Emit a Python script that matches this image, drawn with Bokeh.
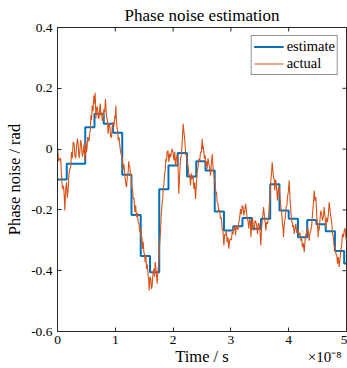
import math
from bokeh.plotting import figure
from bokeh.models import (Range1d, FixedTicker, CustomJSTickFormatter, LinearAxis,
                          Legend, LegendItem, ColumnDataSource)
from bokeh.embed import file_html
from bokeh.resources import INLINE

# time in units of 1e-8 s
est_time = [0.00, 0.16, 0.32, 0.48, 0.64, 0.80, 0.96, 1.12, 1.28, 1.44, 1.60,
            1.76, 1.92, 2.08, 2.24, 2.40, 2.56, 2.72, 2.88, 3.04, 3.20, 3.36,
            3.52, 3.68, 3.84, 4.00, 4.16, 4.32, 4.48, 4.64, 4.80, 4.96, 5.00]
est_value = [-0.100, -0.048, -0.048, 0.072, 0.116, 0.083, 0.054, -0.084, -0.217,
             -0.352, -0.405, -0.132, -0.054, -0.013, -0.090, -0.040, -0.070,
             -0.205, -0.268, -0.254, -0.227, -0.262, -0.229, -0.116, -0.202,
             -0.229, -0.290, -0.233, -0.247, -0.270, -0.335, -0.376, -0.376]

act_time = [
    0.000, 0.020, 0.040, 0.055, 0.069, 0.084, 0.098, 0.113, 0.127, 0.142,
    0.156, 0.170, 0.185, 0.199, 0.213, 0.228, 0.242, 0.257, 0.271, 0.286,
    0.300, 0.315, 0.329, 0.344, 0.358, 0.372, 0.386, 0.401, 0.415, 0.430,
    0.444, 0.459, 0.473, 0.482, 0.490, 0.502, 0.513, 0.522, 0.531, 0.545,
    0.559, 0.568, 0.577, 0.589, 0.600, 0.615, 0.629, 0.641, 0.652, 0.664,
    0.675, 0.690, 0.704, 0.718, 0.732, 0.741, 0.750, 0.762, 0.773, 0.788,
    0.802, 0.816, 0.830, 0.839, 0.848, 0.862, 0.877, 0.891, 0.905, 0.920,
    0.934, 0.948, 0.963, 0.978, 0.992, 1.000, 1.009, 1.020, 1.032, 1.041,
    1.050, 1.064, 1.078, 1.092, 1.107, 1.121, 1.136, 1.150, 1.165, 1.180,
    1.194, 1.208, 1.223, 1.232, 1.240, 1.252, 1.263, 1.275, 1.286, 1.298,
    1.309, 1.324, 1.338, 1.352, 1.367, 1.382, 1.396, 1.410, 1.424, 1.438,
    1.453, 1.462, 1.471, 1.483, 1.494, 1.505, 1.517, 1.528, 1.540, 1.555,
    1.569, 1.578, 1.586, 1.600, 1.615, 1.626, 1.638, 1.652, 1.667, 1.679,
    1.690, 1.707, 1.724, 1.738, 1.753, 1.762, 1.770, 1.782, 1.794, 1.802,
    1.811, 1.820, 1.828, 1.840, 1.851, 1.863, 1.875, 1.886, 1.897, 1.912,
    1.926, 1.940, 1.955, 1.970, 1.984, 1.998, 2.013, 2.028, 2.042, 2.056,
    2.070, 2.085, 2.099, 2.114, 2.128, 2.143, 2.157, 2.166, 2.174, 2.186,
    2.197, 2.209, 2.220, 2.232, 2.243, 2.258, 2.272, 2.287, 2.301, 2.316,
    2.330, 2.345, 2.359, 2.374, 2.388, 2.402, 2.416, 2.431, 2.445, 2.460,
    2.474, 2.489, 2.503, 2.512, 2.520, 2.532, 2.543, 2.555, 2.566, 2.578,
    2.589, 2.604, 2.618, 2.633, 2.647, 2.662, 2.676, 2.685, 2.693, 2.705,
    2.716, 2.728, 2.739, 2.751, 2.762, 2.777, 2.791, 2.806, 2.820, 2.835,
    2.849, 2.864, 2.878, 2.893, 2.907, 2.921, 2.935, 2.950, 2.964, 2.979,
    2.993, 3.008, 3.022, 3.037, 3.051, 3.066, 3.080, 3.094, 3.108, 3.123,
    3.137, 3.152, 3.166, 3.181, 3.195, 3.210, 3.224, 3.239, 3.253, 3.267,
    3.281, 3.296, 3.310, 3.325, 3.339, 3.345, 3.374, 3.389, 3.403, 3.417,
    3.431, 3.446, 3.460, 3.475, 3.489, 3.504, 3.518, 3.532, 3.547, 3.556,
    3.564, 3.576, 3.587, 3.596, 3.604, 3.619, 3.633, 3.648, 3.662, 3.677,
    3.691, 3.703, 3.714, 3.726, 3.737, 3.749, 3.760, 3.772, 3.783, 3.795,
    3.806, 3.821, 3.835, 3.850, 3.864, 3.879, 3.893, 3.902, 3.910, 3.922,
    3.933, 3.945, 3.956, 3.968, 3.979, 3.994, 4.008, 4.017, 4.025, 4.037,
    4.048, 4.060, 4.071, 4.083, 4.095, 4.109, 4.123, 4.138, 4.152, 4.167,
    4.181, 4.196, 4.210, 4.225, 4.239, 4.254, 4.268, 4.283, 4.297, 4.311,
    4.325, 4.340, 4.354, 4.369, 4.383, 4.398, 4.412, 4.427, 4.441, 4.456,
    4.470, 4.479, 4.487, 4.499, 4.510, 4.519, 4.527, 4.542, 4.556, 4.571,
    4.585, 4.600, 4.614, 4.629, 4.643, 4.657, 4.671, 4.686, 4.700, 4.715,
    4.729, 4.744, 4.758, 4.773, 4.787, 4.802, 4.816, 4.830, 4.844, 4.859,
    4.873, 4.888, 4.902, 4.917, 4.931, 4.946, 4.960, 4.975, 4.989, 5.000]
act_value = [
    0.006, -0.040, -0.032, -0.030, -0.087, -0.130, -0.120, -0.140, -0.202, -0.130,
    -0.109, -0.160, -0.131, -0.080, -0.065, -0.060, -0.010, -0.030, 0.023, 0.020,
    -0.021, -0.030, 0.006, 0.035, 0.017, -0.030, -0.010, 0.030, 0.012, -0.025,
    -0.010, 0.015, -0.037, -0.010, 0.023, -0.010, 0.006, 0.040, 0.034, 0.025,
    0.056, 0.060, 0.111, 0.095, 0.143, 0.125, 0.176, 0.150, 0.185, 0.100,
    0.132, 0.140, 0.105, 0.100, 0.138, 0.150, 0.111, 0.120, 0.094, 0.095,
    0.132, 0.120, 0.165, 0.140, 0.105, 0.100, 0.050, 0.085, 0.078, 0.040,
    0.039, 0.075, 0.089, 0.075, 0.110, 0.100, 0.143, 0.090, 0.067, 0.060,
    0.028, 0.040, 0.012, -0.010, -0.021, -0.030, -0.065, -0.050, -0.087, -0.110,
    -0.125, -0.090, -0.076, -0.040, -0.054, -0.060, -0.087, -0.080, -0.131, -0.130,
    -0.164, -0.160, -0.207, -0.185, -0.224, -0.210, -0.240, -0.245, -0.273, -0.260,
    -0.306, -0.290, -0.328, -0.305, -0.339, -0.345, -0.372, -0.350, -0.394, -0.380,
    -0.416, -0.430, -0.465, -0.420, -0.427, -0.460, -0.449, -0.410, -0.394, -0.420,
    -0.372, -0.400, -0.443, -0.400, -0.372, -0.330, -0.306, -0.270, -0.218, -0.200,
    -0.175, -0.165, -0.131, -0.120, -0.087, -0.070, -0.032, -0.040, -0.010, -0.005,
    -0.043, -0.015, -0.027, -0.010, 0.001, -0.010, -0.037, -0.010, -0.054, -0.030,
    -0.021, -0.060, -0.147, -0.080, -0.032, -0.020, 0.023, 0.050, 0.083, 0.060,
    0.039, 0.010, -0.021, -0.015, -0.054, -0.050, -0.087, -0.085, -0.120, -0.080,
    -0.098, -0.090, -0.131, -0.110, -0.164, -0.120, -0.076, -0.060, -0.032, -0.040,
    -0.010, -0.010, 0.034, 0.000, 0.012, -0.010, -0.032, -0.020, -0.054, -0.040,
    -0.065, -0.030, -0.048, -0.060, -0.087, -0.050, -0.016, -0.040, -0.065, -0.080,
    -0.109, -0.110, -0.147, -0.140, -0.175, -0.180, -0.207, -0.200, -0.229, -0.225,
    -0.262, -0.270, -0.317, -0.280, -0.284, -0.270, -0.306, -0.290, -0.328, -0.300,
    -0.295, -0.300, -0.273, -0.280, -0.257, -0.255, -0.284, -0.250, -0.262, -0.265,
    -0.240, -0.225, -0.197, -0.215, -0.186, -0.190, -0.218, -0.205, -0.180, -0.200,
    -0.229, -0.235, -0.262, -0.230, -0.240, -0.290, -0.224, -0.260, -0.268, -0.235,
    -0.240, -0.250, -0.279, -0.245, -0.246, -0.270, -0.317, -0.260, -0.224, -0.215,
    -0.191, -0.210, -0.235, -0.240, -0.268, -0.240, -0.246, -0.230, -0.191, -0.160,
    -0.103, -0.080, -0.043, -0.070, -0.092, -0.100, -0.136, -0.100, -0.114, -0.140,
    -0.169, -0.130, -0.125, -0.160, -0.191, -0.210, -0.246, -0.260, -0.290, -0.250,
    -0.235, -0.220, -0.191, -0.185, -0.158, -0.140, -0.103, -0.140, -0.169, -0.200,
    -0.235, -0.240, -0.257, -0.250, -0.279, -0.260, -0.246, -0.275, -0.268, -0.270,
    -0.284, -0.275, -0.301, -0.295, -0.323, -0.310, -0.339, -0.300, -0.279, -0.285,
    -0.257, -0.270, -0.301, -0.275, -0.268, -0.250, -0.213, -0.180, -0.136, -0.170,
    -0.158, -0.190, -0.224, -0.250, -0.290, -0.255, -0.268, -0.230, -0.202, -0.215,
    -0.235, -0.220, -0.191, -0.225, -0.257, -0.225, -0.240, -0.215, -0.175, -0.200,
    -0.224, -0.240, -0.279, -0.290, -0.323, -0.320, -0.345, -0.345, -0.377, -0.355,
    -0.388, -0.360, -0.334, -0.315, -0.279, -0.290, -0.268, -0.260, -0.290, -0.300]
assert len(act_time) == len(act_value)

x_ticks = [0, 1, 2, 3, 4, 5]
y_ticks = [-0.6, -0.4, -0.2, 0, 0.2, 0.4]
x_multiplier = "×10⁻⁸"

FONT = "Liberation Serif"
AX = "#262626"
BLUE = "#0072BD"
ORANGE = "#D95319"

p = figure(width=347, height=368, output_backend="svg", toolbar_location=None,
           x_range=Range1d(0, 5), y_range=Range1d(-0.6, 0.4),
           min_border_left=57, min_border_right=1, min_border_top=27,
           min_border_bottom=37)
p.background_fill_color = "white"
p.border_fill_color = "white"
p.outline_line_color = AX
p.grid.visible = False

p.title.text = "Phase noise estimation"
p.title.align = "center"
p.title.text_font = FONT
p.title.text_font_size = "17px"
p.title.text_font_style = "normal"
p.title.text_color = "black"
p.title.standoff = 6

yfmt = CustomJSTickFormatter(code="""
const v = Math.round(tick * 10) / 10;
return v === 0 ? "0" : v.toString();
""")

def style_axis(ax):
    ax.axis_line_color = AX
    ax.major_tick_line_color = AX
    ax.minor_tick_line_color = None
    ax.major_tick_in = 4
    ax.major_tick_out = 0
    ax.major_label_text_font = FONT
    ax.major_label_text_font_size = "13.5px"
    ax.major_label_text_color = "black"
    ax.axis_label_text_font = FONT
    ax.axis_label_text_font_size = "16.5px"
    ax.axis_label_text_font_style = "normal"
    ax.axis_label_text_color = "black"

xa = p.xaxis[0]
xa.ticker = FixedTicker(ticks=x_ticks)
xa.axis_label = "Time / s"
xa.axis_label_standoff = 0
xa.major_label_standoff = 4
style_axis(xa)

ya = p.yaxis[0]
ya.ticker = FixedTicker(ticks=y_ticks)
ya.formatter = yfmt
ya.axis_label = "Phase noise / rad"
ya.axis_label_standoff = 4
ya.major_label_standoff = 5
style_axis(ya)

# scale multiplier of the time axis, set on the row of the axis title
mx = LinearAxis(ticker=FixedTicker(ticks=[4.62]),
                formatter=CustomJSTickFormatter(args=dict(s=x_multiplier),
                                                code="return s;"))
mx.axis_line_color = None
mx.major_tick_line_color = None
mx.minor_tick_line_color = None
mx.major_tick_in = 0
mx.major_tick_out = 0
mx.major_label_standoff = -20
mx.major_label_text_font = FONT
mx.major_label_text_font_size = "15px"
mx.major_label_text_color = "black"
p.add_layout(mx, "below")

# inward ticks on the top and right edges of the box
p.scatter(x=x_ticks, y=[0.4] * len(x_ticks), marker="dash", angle=math.pi / 2,
          size=8, line_color=AX, line_width=1)
p.scatter(x=[5] * len(y_ticks), y=y_ticks, marker="dash", angle=0,
          size=8, line_color=AX, line_width=1)

est_src = ColumnDataSource(dict(t=est_time, v=est_value))
act_src = ColumnDataSource(dict(t=act_time, v=act_value))

r_est = p.step("t", "v", source=est_src, mode="after", line_color=BLUE, line_width=2)
r_act = p.line("t", "v", source=act_src, line_color=ORANGE, line_width=1.1)

legend = Legend(items=[LegendItem(label="estimate", renderers=[r_est]),
                       LegendItem(label="actual", renderers=[r_act])],
                location="top_right")
legend.margin = 8
legend.padding = 2
legend.spacing = 0
legend.label_text_font = FONT
legend.label_text_font_size = "14.5px"
legend.label_text_color = "black"
legend.label_height = 15
legend.glyph_height = 15
legend.glyph_width = 30
legend.label_standoff = 3
legend.border_line_color = AX
legend.border_line_width = 1
legend.background_fill_alpha = 1
p.add_layout(legend, "center")

open("out.html", "w").write(file_html(p, INLINE))
